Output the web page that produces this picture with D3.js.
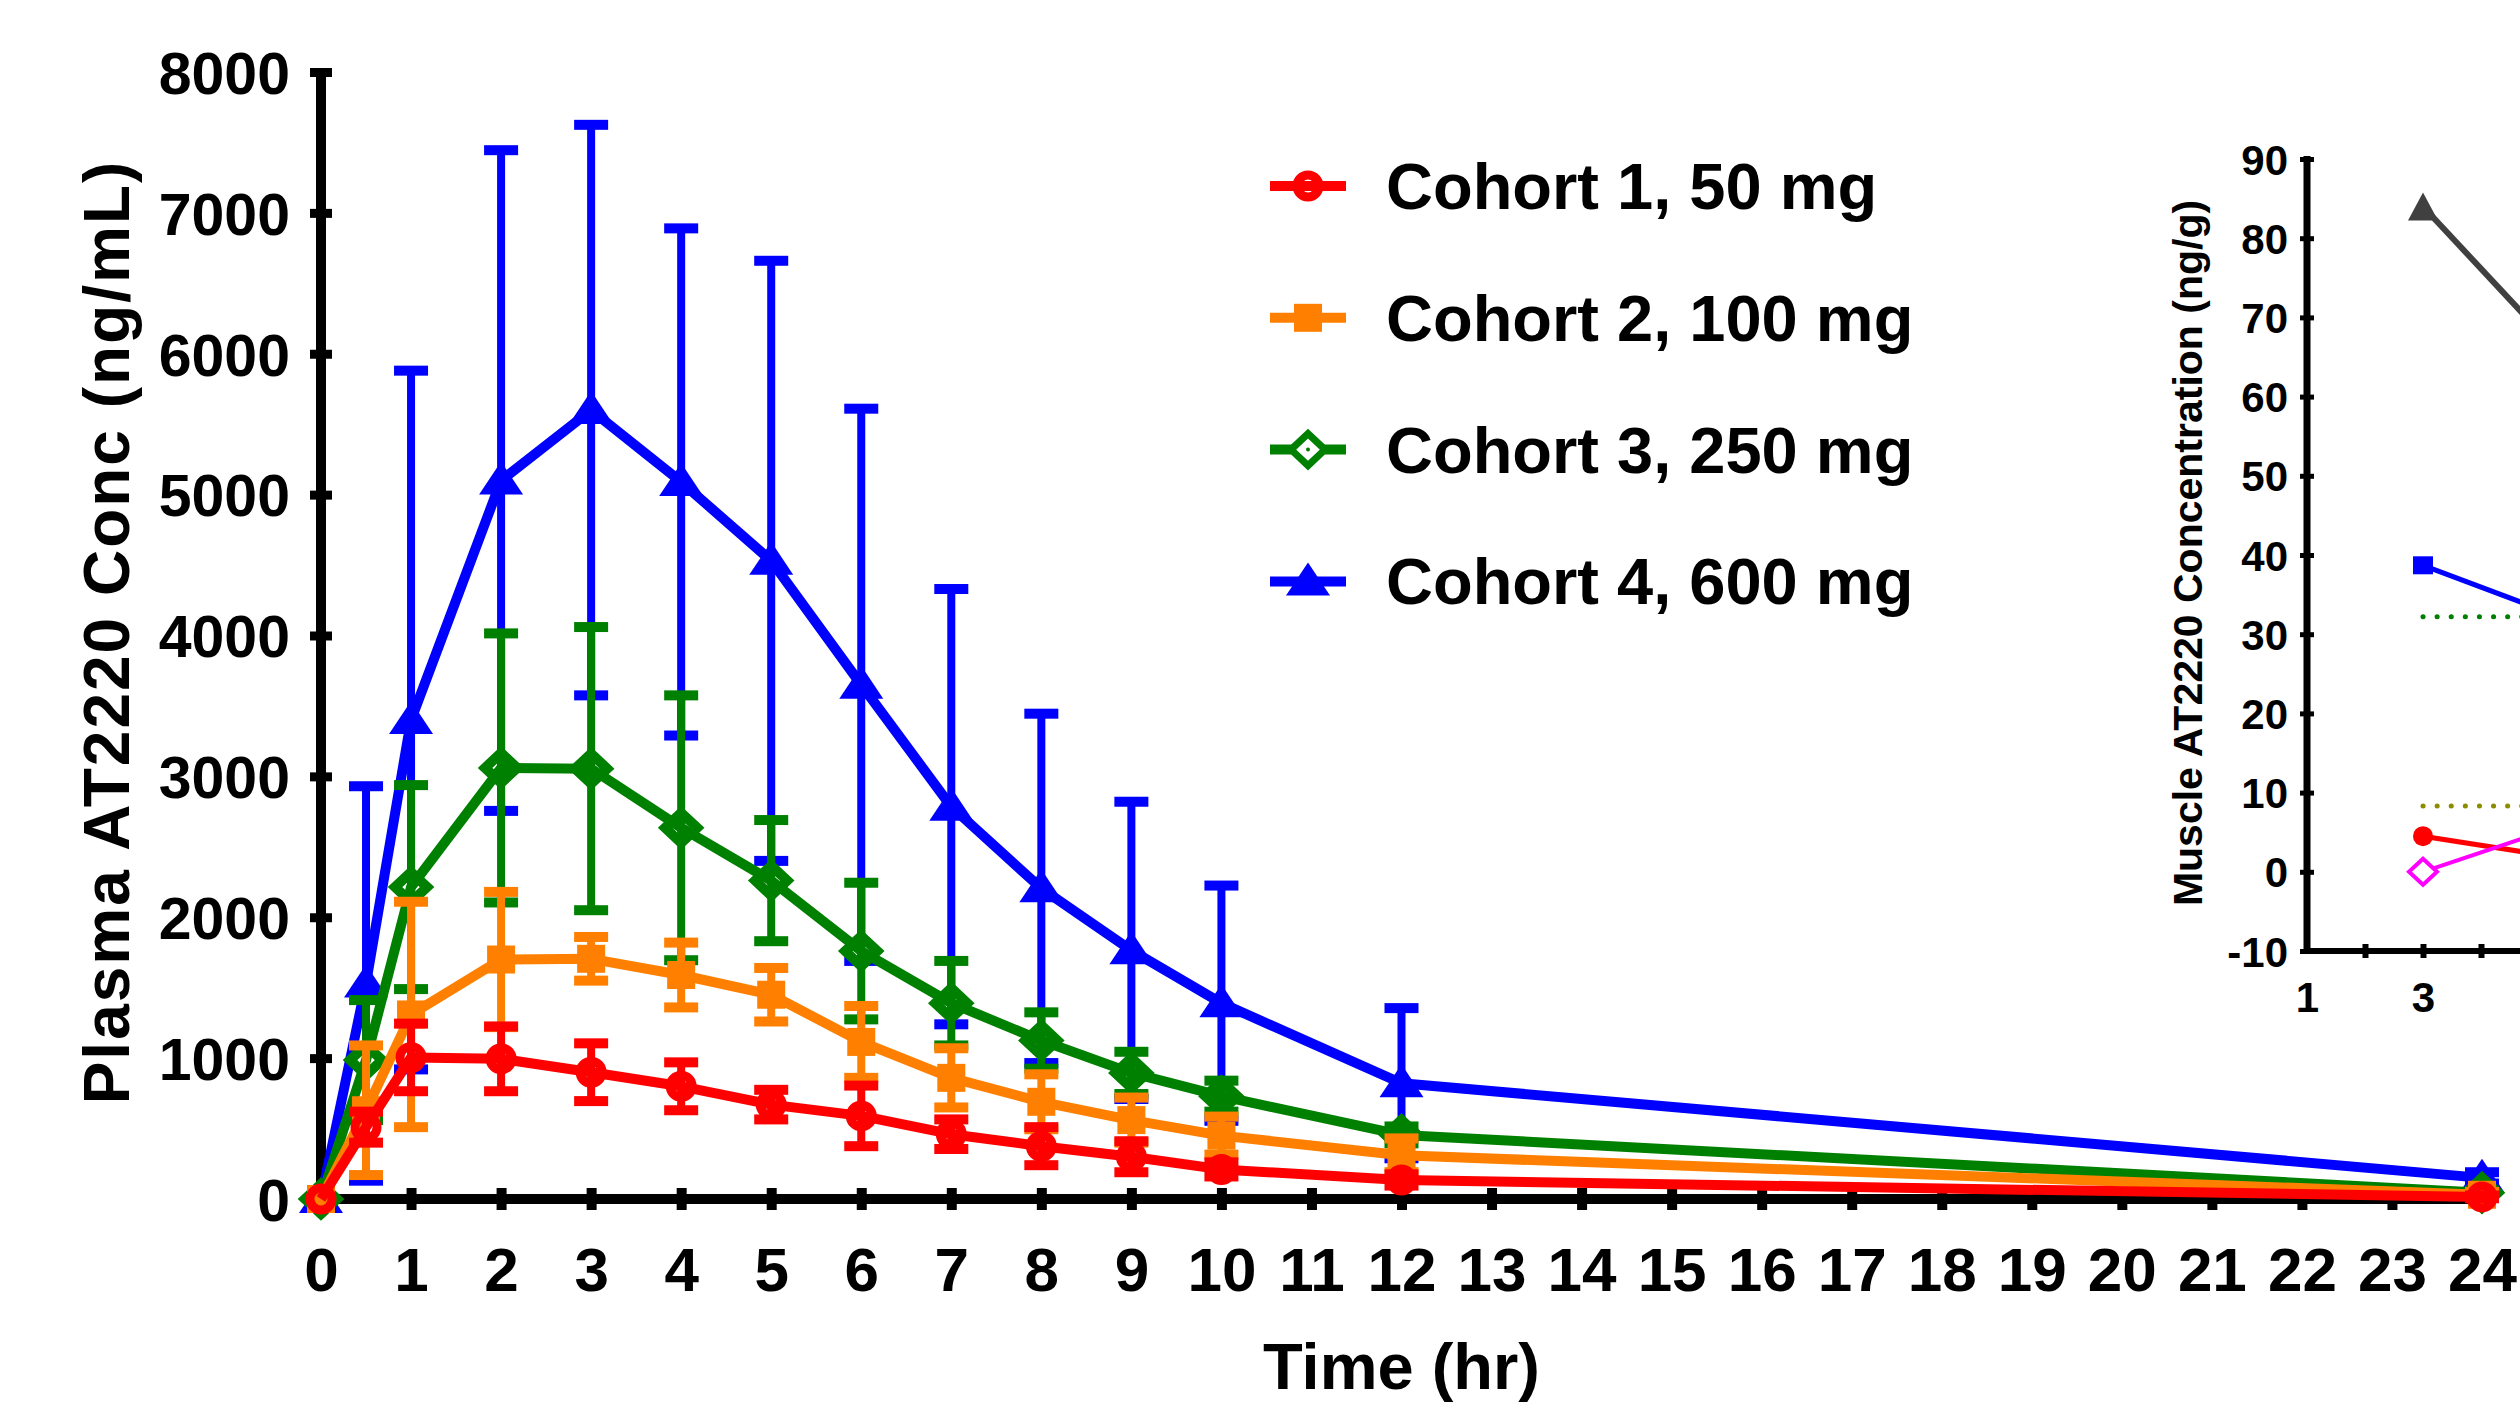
<!DOCTYPE html>
<html>
<head>
<meta charset="utf-8">
<script src="https://cdn.jsdelivr.net/npm/d3@7"></script>
<style>
  body { margin: 0; background: #fff; }
  svg text { font-family: "Liberation Sans", Arial, sans-serif; font-weight: bold; fill: #000; }
</style>
</head>
<body>
<svg id="chart" width="2520" height="1412"></svg>
<script>
(function(){

  // ---- main chart data: plasma conc (ng/mL), mean and SD per sampling time
  var times = [0, 0.5, 1, 2, 3, 4, 5, 6, 7, 8, 9, 10, 12, 24];

  var cohortNames = ['Cohort 1, 50 mg', 'Cohort 2, 100 mg', 'Cohort 3, 250 mg', 'Cohort 4, 600 mg'];
  var cohortColors = ['#ff0000', '#ff8000', '#008000', '#0000ff'];
  var cohortSymbols = ['circle', 'square', 'diamond', 'triangle'];

  var cohort1Mean = [0, 510, 1005, 995, 900, 800, 670, 590, 460, 375, 300, 210, 135, 15];
  var cohort1Sd   = [0, 110, 240, 230, 205, 170, 105, 215, 105, 135, 110, 50, 40, 10];

  var cohort2Mean = [0, 630, 1310, 1700, 1705, 1590, 1450, 1115, 860, 690, 560, 450, 310, 30];
  var cohort2Sd   = [0, 460, 800, 480, 155, 230, 190, 255, 210, 195, 160, 135, 120, 20];

  var cohort3Mean = [0, 986, 2214, 3060, 3055, 2635, 2260, 1760, 1390, 1125, 895, 730, 455, 45];
  var cohort3Sd   = [0, 426, 724, 955, 1005, 940, 430, 485, 300, 200, 150, 110, 60, 15];

  var cohort4Mean = [0, 1530, 3400, 5100, 5600, 5090, 4530, 3650, 2785, 2205, 1765, 1390, 822, 150];
  var cohort4Sd   = [0, 1400, 2480, 2345, 2025, 1800, 2130, 1960, 1545, 1240, 1055, 835, 533, 40];

  var yTicks = [0, 1000, 2000, 3000, 4000, 5000, 6000, 7000, 8000];
  var xTicks = [0, 1, 2, 3, 4, 5, 6, 7, 8, 9, 10, 11, 12, 13, 14, 15, 16, 17, 18, 19, 20, 21, 22, 23, 24];

  // ---- inset data: muscle conc (ng/g)
  var insetX = [3, 5];
  var insetGray = [84, 68.3];
  var insetBlue = [38.7, 33.2];
  var insetRed = [4.5, 2.2];
  var insetMagenta = [0, 4.9];
  var insetRefGreen = 32.2,
      insetRefOlive = 8.3;
  var insetYTicks = [-10, 0, 10, 20, 30, 40, 50, 60, 70, 80, 90];
  var insetXTicks = [1, 2, 3, 4, 5];
  var insetXLabels = [1, 3];

  var svg = d3.select('#chart');
  svg.append('rect').attr('width', 2520).attr('height', 1412).attr('fill', '#fff');

  var x = d3.scaleLinear().domain([0, 24]).range([321, 2482]);
  var y = d3.scaleLinear().domain([0, 8000]).range([1199, 72]);

  var lineW = 10;

  // marker shapes
  function marker(sel, type, color, inLegend){
    if(type == 'circle'){
      sel.append('circle').attr('r', 11)
        .attr('fill', 'none').attr('stroke', color).attr('stroke-width', 9);
    } else if(type == 'square'){
      sel.append('rect').attr('x', -14).attr('y', -14).attr('width', 28).attr('height', 28)
        .attr('fill', color);
    } else if(type == 'diamond'){
      if(inLegend){
        sel.append('path').attr('d', 'M0,-16L17,0L0,16L-17,0Z')
          .attr('fill', '#fff').attr('stroke', color).attr('stroke-width', 7);
        sel.append('circle').attr('r', 2).attr('fill', color);
      } else {
        sel.append('path').attr('d', 'M0,-15L16,0L0,15L-16,0Z')
          .attr('fill', 'none').attr('stroke', color).attr('stroke-width', 10);
      }
    } else if(type == 'triangle'){
      sel.append('path').attr('d', 'M0,-19L22,14L-22,14Z')
        .attr('fill', color);
    }
  }

  // ---- axes
  var yAxisG = svg.append('g')
    .attr('transform', 'translate(' + x(0) + ',0)')
    .call(d3.axisLeft(y).tickValues(yTicks).tickSize(0).tickPadding(31).tickFormat(d3.format('d')));
  yAxisG.select('.domain').remove();
  yAxisG.selectAll('.tick text')
    .attr('font-size', 59).attr('dy', '0.36em')
    .style('font-family', '"Liberation Sans", Arial, sans-serif').style('font-weight', 'bold');
  yAxisG.selectAll('.tick').append('line')
    .attr('x1', -11).attr('x2', 11)
    .attr('stroke', '#000').attr('stroke-width', 9);
  yAxisG.append('line')
    .attr('y1', y(8000) - 4).attr('y2', y(0) + 5)
    .attr('stroke', '#000').attr('stroke-width', 10);

  var xAxisG = svg.append('g')
    .attr('transform', 'translate(0,' + y(0) + ')')
    .call(d3.axisBottom(x).tickValues(xTicks).tickSize(0).tickFormat(d3.format('d')));
  xAxisG.select('.domain').remove();
  xAxisG.selectAll('.tick text')
    .attr('font-size', 62).attr('y', 92).attr('dy', 0)
    .style('font-family', '"Liberation Sans", Arial, sans-serif').style('font-weight', 'bold');
  xAxisG.selectAll('.tick').filter(function(d){ return d > 0; }).append('line')
    .attr('y1', -11).attr('y2', 11)
    .attr('stroke', '#000').attr('stroke-width', 10);
  xAxisG.append('line')
    .attr('x1', x(0) - 5).attr('x2', x(24) + 5)
    .attr('stroke', '#000').attr('stroke-width', 10);

  svg.append('text')
    .attr('transform', 'translate(129,632) rotate(-90)')
    .attr('text-anchor', 'middle')
    .attr('font-size', 64)
    .attr('letter-spacing', 2)
    .text('Plasma AT2220 Conc (ng/mL)');

  svg.append('text')
    .attr('x', x(12)).attr('y', 1389)
    .attr('text-anchor', 'middle')
    .attr('font-size', 65)
    .text('Time (hr)');

  // ---- series (cohort 4 at the back, cohort 1 on top)
  var means = [cohort1Mean, cohort2Mean, cohort3Mean, cohort4Mean],
      sds = [cohort1Sd, cohort2Sd, cohort3Sd, cohort4Sd];

  var line = d3.line()
    .x(function(d){ return x(d.t); })
    .y(function(d){ return y(d.v); });

  var capW = 34;

  [3, 2, 1, 0].forEach(function(k){
    var color = cohortColors[k];
    var pts = times.map(function(t, i){
      return {t: t, v: means[k][i], sd: sds[k][i]};
    });
    var g = svg.append('g').attr('class', 'series');

    g.append('path').datum(pts)
      .attr('d', line)
      .attr('fill', 'none')
      .attr('stroke', color)
      .attr('stroke-width', lineW)
      .attr('stroke-linejoin', 'round');

    var bars = pts.filter(function(d){ return d.sd > 0; });

    g.selectAll('.ebar').data(bars).enter().append('line')
      .attr('class', 'ebar')
      .attr('x1', function(d){ return x(d.t); })
      .attr('x2', function(d){ return x(d.t); })
      .attr('y1', function(d){ return y(d.v + d.sd); })
      .attr('y2', function(d){ return y(d.v - d.sd); })
      .attr('stroke', color).attr('stroke-width', 8);

    g.selectAll('.capTop').data(bars).enter().append('rect')
      .attr('x', function(d){ return x(d.t) - capW / 2; })
      .attr('y', function(d){ return y(d.v + d.sd) - 5; })
      .attr('width', capW).attr('height', 10)
      .attr('fill', color);

    g.selectAll('.capBot').data(bars).enter().append('rect')
      .attr('x', function(d){ return x(d.t) - capW / 2; })
      .attr('y', function(d){ return y(d.v - d.sd) - 5; })
      .attr('width', capW).attr('height', 10)
      .attr('fill', color);

    g.selectAll('.mark').data(pts).enter().append('g')
      .attr('transform', function(d){ return 'translate(' + x(d.t) + ',' + y(d.v) + ')'; })
      .each(function(){ marker(d3.select(this), cohortSymbols[k], color, false); });
  });

  // ---- legend
  var legend = svg.append('g');
  cohortNames.forEach(function(name, i){
    var ly = 186 + i * 131.8;
    var row = legend.append('g').attr('transform', 'translate(0,' + ly + ')');
    row.append('line')
      .attr('x1', 1270).attr('x2', 1346)
      .attr('stroke', cohortColors[i]).attr('stroke-width', lineW);
    marker(row.append('g').attr('transform', 'translate(1308,0)'), cohortSymbols[i], cohortColors[i], true);
    row.append('text')
      .attr('x', 1386).attr('y', 23)
      .attr('font-size', 65)
      .text(name);
  });

  // ---- inset chart (muscle), cut by the right edge like the original
  var ix = d3.scaleLinear().domain([1, 5]).range([2307, 2539]);
  var iy = d3.scaleLinear().domain([-10, 90]).range([951, 159]);

  var inset = svg.append('g').attr('class', 'inset');

  var iyAxis = inset.append('g')
    .attr('transform', 'translate(' + ix(1) + ',0)')
    .call(d3.axisLeft(iy).tickValues(insetYTicks).tickSize(0).tickPadding(19)
      .tickFormat(function(d){ return String(d); }));
  iyAxis.select('.domain').remove();
  iyAxis.selectAll('.tick text')
    .attr('font-size', 42).attr('dy', '0.36em')
    .style('font-family', '"Liberation Sans", Arial, sans-serif').style('font-weight', 'bold');
  iyAxis.selectAll('.tick').append('line')
    .attr('x1', -7).attr('x2', 7)
    .attr('stroke', '#000').attr('stroke-width', 5);
  iyAxis.append('line')
    .attr('y1', iy(90) - 3).attr('y2', iy(-10) + 3)
    .attr('stroke', '#000').attr('stroke-width', 7);

  var ixAxis = inset.append('g')
    .attr('transform', 'translate(0,' + iy(-10) + ')')
    .call(d3.axisBottom(ix).tickValues(insetXTicks).tickSize(0).tickFormat(d3.format('d')));
  ixAxis.select('.domain').remove();
  ixAxis.selectAll('.tick text')
    .filter(function(d){ return insetXLabels.indexOf(d) < 0; })
    .remove();
  ixAxis.selectAll('.tick text')
    .attr('font-size', 42).attr('y', 61).attr('dy', 0)
    .style('font-family', '"Liberation Sans", Arial, sans-serif').style('font-weight', 'bold');
  ixAxis.selectAll('.tick').filter(function(d){ return d > 1; }).append('line')
    .attr('y1', -7).attr('y2', 7)
    .attr('stroke', '#000').attr('stroke-width', 6);
  ixAxis.append('line')
    .attr('x1', ix(1) - 3).attr('x2', ix(5))
    .attr('stroke', '#000').attr('stroke-width', 6);

  inset.append('text')
    .attr('transform', 'translate(2202,553) rotate(-90)')
    .attr('text-anchor', 'middle')
    .attr('font-size', 41)
    .text('Muscle AT2220 Concentration (ng/g)');

  // dotted reference lines
  [[insetRefGreen, '#008000'], [insetRefOlive, '#8c8c00']].forEach(function(r){
    inset.append('line')
      .attr('x1', ix(3)).attr('x2', ix(5))
      .attr('y1', iy(r[0])).attr('y2', iy(r[0]))
      .attr('stroke', r[1]).attr('stroke-width', 5)
      .attr('stroke-linecap', 'round')
      .attr('stroke-dasharray', '0.1,14');
  });

  var iline = d3.line()
    .x(function(d){ return ix(d.x); })
    .y(function(d){ return iy(d.y); });

  var insetSeries = [
    {vals: insetGray, color: '#404040', width: 6, sym: 'tri'},
    {vals: insetBlue, color: '#0000ff', width: 5, sym: 'sq'},
    {vals: insetRed, color: '#ff0000', width: 5, sym: 'dot'},
    {vals: insetMagenta, color: '#ff00ff', width: 4, sym: 'dia'}
  ];

  insetSeries.forEach(function(s){
    var pts = insetX.map(function(xv, i){ return {x: xv, y: s.vals[i]}; });
    inset.append('path').datum(pts)
      .attr('d', iline)
      .attr('fill', 'none')
      .attr('stroke', s.color)
      .attr('stroke-width', s.width);
    var m = inset.selectAll(null).data(pts).enter().append('g')
      .attr('transform', function(d){ return 'translate(' + ix(d.x) + ',' + iy(d.y) + ')'; });
    if(s.sym == 'tri'){
      m.append('path').attr('d', 'M0,-14L15,14L-15,14Z').attr('fill', s.color);
    } else if(s.sym == 'sq'){
      m.append('rect').attr('x', -10).attr('y', -9).attr('width', 20).attr('height', 18).attr('fill', s.color);
    } else if(s.sym == 'dot'){
      m.append('circle').attr('r', 10).attr('fill', s.color);
    } else {
      m.append('path').attr('d', 'M0,-13L14,0L0,13L-14,0Z')
        .attr('fill', '#fff').attr('stroke', s.color).attr('stroke-width', 4);
    }
  });

})();
</script>
</body>
</html>
